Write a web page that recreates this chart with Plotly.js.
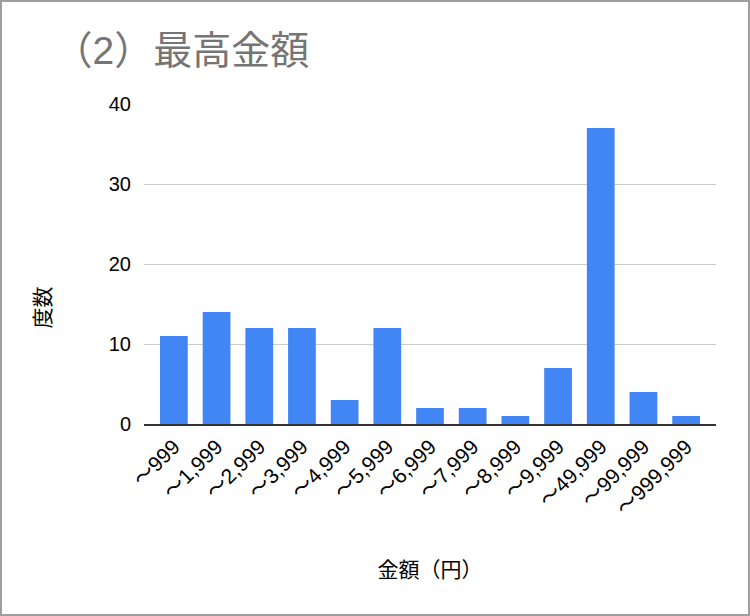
<!DOCTYPE html>
<html>
<head>
<meta charset="utf-8">
<script src="https://cdn.plot.ly/plotly-3.0.1.min.js"></script>
<style>
  html, body { margin: 0; padding: 0; background: #fff; }
  #chart { width: 750px; height: 616px; box-sizing: border-box; border: 2px solid #9e9e9e; }
</style>
</head>
<body>
<div id="chart"></div>
<script>
// 金額の階級と度数
const categories = ['〜999', '〜1,999', '〜2,999', '〜3,999', '〜4,999', '〜5,999', '〜6,999',
  '〜7,999', '〜8,999', '〜9,999', '〜49,999', '〜99,999', '〜999,999'];
const counts = [11, 14, 12, 12, 3, 12, 2, 2, 1, 7, 37, 4, 1];
const yTicks = [0, 10, 20, 30, 40];

const font = '"Liberation Sans", "Noto Sans CJK JP", Arial, sans-serif';

const data = [{
  x: categories,
  y: counts,
  type: 'bar',
  marker: { color: '#4285f4' },
  hoverinfo: 'x+y'
}];

const layout = {
  width: 746,
  height: 612,
  margin: { l: 142, r: 32, t: 102, b: 190 },
  paper_bgcolor: '#fff',
  plot_bgcolor: '#fff',
  font: { family: font, color: '#000', size: 18 },
  showlegend: false,
  bargap: 0.35,
  title: {
    text: '（2）最高金額',
    font: { family: font, size: 39, color: '#757575' },
    x: 0.069, xref: 'container', xanchor: 'left',
    y: 0.921, yref: 'container', yanchor: 'middle'
  },
  xaxis: {
    type: 'category',
    range: [-0.7, categories.length - 0.3],
    tickangle: -45,
    tickfont: { family: font, size: 21, color: '#000' },
    showline: true,
    linecolor: '#333',
    linewidth: 2,
    ticks: '',
    title: { text: '金額（円）', font: { family: font, size: 21, color: '#000' }, standoff: 44 }
  },
  yaxis: {
    range: [0, 40],
    tickvals: yTicks,
    tickfont: { family: font, size: 20, color: '#000' },
    gridcolor: '#cccccc',
    gridwidth: 1,
    zeroline: false,
    ticks: '',
    ticklabelstandoff: 12
  },
  // 縦軸タイトルはプロット中央より下に置かれているので注釈で配置
  annotations: [{
    text: '度数',
    textangle: -90,
    xref: 'paper', yref: 'paper',
    x: -0.177, y: 0.363,
    xanchor: 'center', yanchor: 'middle',
    showarrow: false,
    font: { family: font, size: 21, color: '#000' }
  }]
};

Plotly.newPlot('chart', data, layout, { displayModeBar: false, staticPlot: true });
</script>
</body>
</html>
